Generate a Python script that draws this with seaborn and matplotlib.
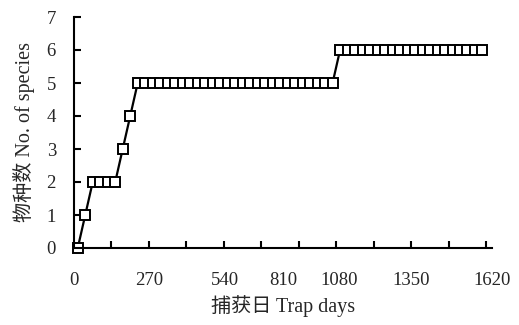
import matplotlib
matplotlib.use("Agg")
import matplotlib.pyplot as plt
import seaborn as sns
import pandas as pd

# trap days (one point every 30 trap days)
trap_days = [0, 30, 60, 90, 120, 150, 180, 210, 240, 270,
             300, 330, 360, 390, 420, 450, 480, 510, 540, 570,
             600, 630, 660, 690, 720, 750, 780, 810, 840, 870,
             900, 930, 960, 990, 1020, 1050, 1080, 1110, 1140, 1170,
             1200, 1230, 1260, 1290, 1320, 1350, 1380, 1410, 1440, 1470,
             1500, 1530, 1560, 1590, 1620]
# cumulative number of species
species = [0, 1, 2, 2, 2, 2, 3, 4, 5, 5,
           5, 5, 5, 5, 5, 5, 5, 5, 5, 5,
           5, 5, 5, 5, 5, 5, 5, 5, 5, 5,
           5, 5, 5, 5, 5, 6, 6, 6, 6, 6,
           6, 6, 6, 6, 6, 6, 6, 6, 6, 6,
           6, 6, 6, 6, 6]
x_labels = ["0", "270", "540", "810", "1080", "1350", "1620"]
y_ticks = [0, 1, 2, 3, 4, 5, 6, 7]

# where the x labels sit along the axis (fraction of axis width)
x_label_frac = [0.0, 0.182, 0.366, 0.507, 0.644, 0.818, 1.014]

df = pd.DataFrame({"days": trap_days, "n": species})

sns.set_style("ticks")
plt.rcParams["font.family"] = ["Liberation Serif", "Noto Sans CJK SC"]

fig = plt.figure(figsize=(5.19, 3.25), dpi=100)
ax = fig.add_axes([74 / 519, 1 - 248 / 325, 418 / 519, 231 / 325])

sns.lineplot(data=df, x="days", y="n", ax=ax, color="black", linewidth=1.6,
             marker="s", markersize=7, markerfacecolor="white",
             markeredgecolor="black", markeredgewidth=1.4, clip_on=False)

x0, x1 = -15, 1635
ax.set_xlim(x0, x1)
ax.set_ylim(0, 7)

# tick marks every 5 categories, labels placed separately
ax.set_xticks([x0 + 150 * k for k in range(12)], minor=True)
ax.set_xticks([x0 + f * (x1 - x0) for f in x_label_frac])
ax.set_xticklabels(x_labels, fontsize=13.5)
ax.tick_params(axis="x", which="major", length=0, pad=17)
ax.tick_params(axis="x", which="minor", direction="in", length=5, width=1.5, color="black")

ax.set_yticks(y_ticks)
ax.set_yticklabels([str(v) for v in y_ticks], fontsize=13.5)
ax.tick_params(axis="y", direction="in", length=5, width=1.5, pad=13, color="black")

for s in ["top", "right"]:
    ax.spines[s].set_visible(False)
for s in ["left", "bottom"]:
    ax.spines[s].set_linewidth(1.5)
    ax.spines[s].set_color("black")

ax.set_xlabel("捕获日 Trap days", fontsize=14.5, labelpad=5)
ax.set_ylabel("物种数 No. of species", fontsize=14.5, labelpad=8)

fig.savefig("out.png", dpi=100)
